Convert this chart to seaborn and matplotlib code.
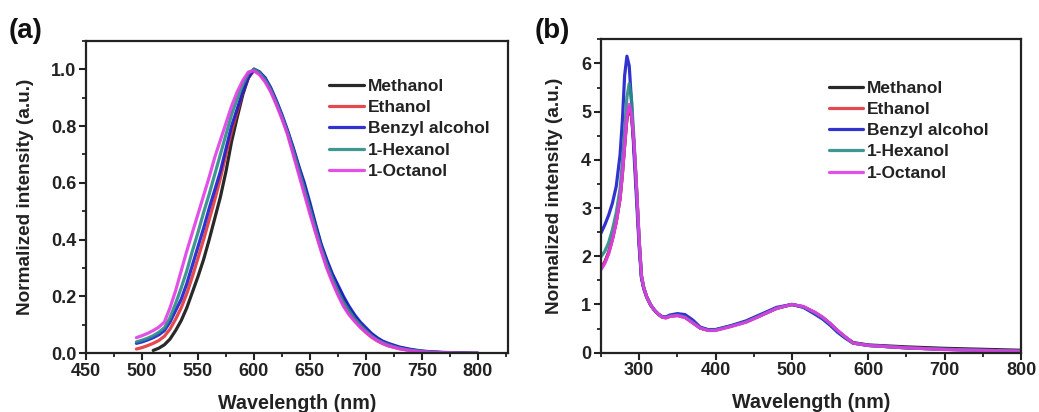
import numpy as np
import pandas as pd
import matplotlib
matplotlib.use("Agg")
import matplotlib.pyplot as plt
from matplotlib.ticker import MultipleLocator
import seaborn as sns

solvents = ["Methanol", "Ethanol", "Benzyl alcohol", "1-Hexanol", "1-Octanol"]
colors = ["#111111", "#e0353a", "#1c1ccc", "#2a8c84", "#e03de6"]

# ---------- panel (a): emission spectra ----------
wl_a = list(range(495, 721, 5)) + list(range(730, 801, 10))
wl_a_meoh = wl_a[3:]
pl_methanol = [0.01, 0.018, 0.03, 0.05, 0.08, 0.115, 0.16,
               0.215, 0.27, 0.33, 0.40, 0.475, 0.55, 0.64, 0.745, 0.83, 0.91,
               0.97, 1.0, 0.99, 0.965, 0.93, 0.885, 0.835, 0.78, 0.72, 0.655,
               0.59, 0.52, 0.45, 0.38, 0.325, 0.275, 0.235, 0.195, 0.16, 0.13,
               0.105, 0.085, 0.067, 0.052, 0.04, 0.032,
               0.02, 0.012, 0.007, 0.004, 0.002, 0.001, 0.0, 0.0]
pl_ethanol = [0.015, 0.02, 0.027, 0.035, 0.045, 0.06, 0.085, 0.12, 0.16, 0.21,
              0.27, 0.335, 0.40, 0.47, 0.54, 0.615, 0.70, 0.78, 0.85, 0.92,
              0.97, 0.995, 0.985, 0.96, 0.925, 0.88, 0.83, 0.775, 0.71, 0.64,
              0.57, 0.50, 0.43, 0.365, 0.305, 0.255, 0.21, 0.17, 0.14, 0.115,
              0.092, 0.073, 0.057, 0.044, 0.034, 0.026,
              0.016, 0.01, 0.006, 0.003, 0.002, 0.001, 0.0, 0.0]
pl_benzyl = [0.035, 0.04, 0.047, 0.055, 0.065, 0.08, 0.11, 0.15, 0.19, 0.245,
             0.31, 0.375, 0.44, 0.51, 0.575, 0.64, 0.72, 0.80, 0.86, 0.92,
             0.97, 1.0, 0.99, 0.97, 0.935, 0.89, 0.84, 0.785, 0.725, 0.66,
             0.60, 0.53, 0.455, 0.385, 0.33, 0.28, 0.24, 0.20, 0.165, 0.135,
             0.11, 0.09, 0.07, 0.055, 0.043, 0.035,
             0.022, 0.014, 0.008, 0.005, 0.003, 0.002, 0.001, 0.0]
pl_hexanol = [0.04, 0.046, 0.053, 0.062, 0.074, 0.09, 0.125, 0.175, 0.23, 0.29,
              0.36, 0.425, 0.495, 0.56, 0.63, 0.70, 0.77, 0.84, 0.895, 0.945,
              0.985, 1.0, 0.988, 0.963, 0.928, 0.883, 0.833, 0.778, 0.715, 0.648,
              0.58, 0.51, 0.44, 0.372, 0.315, 0.265, 0.22, 0.18, 0.15, 0.122,
              0.10, 0.08, 0.062, 0.048, 0.038, 0.03,
              0.018, 0.011, 0.007, 0.004, 0.002, 0.001, 0.0, 0.0]
pl_octanol = [0.055, 0.062, 0.07, 0.08, 0.092, 0.11, 0.16, 0.22, 0.29, 0.36,
              0.425, 0.49, 0.555, 0.62, 0.69, 0.75, 0.81, 0.87, 0.92, 0.96,
              0.99, 0.995, 0.98, 0.955, 0.92, 0.875, 0.825, 0.77, 0.70, 0.63,
              0.56, 0.49, 0.425, 0.36, 0.30, 0.25, 0.205, 0.165, 0.135, 0.112,
              0.092, 0.074, 0.058, 0.045, 0.035, 0.027,
              0.016, 0.009, 0.005, 0.003, 0.002, 0.001, 0.0, 0.0]

# ---------- panel (b): absorption spectra ----------
wl_b = [250, 255, 260, 265, 270, 275, 278, 281, 284, 287, 290, 293, 296, 300,
        303, 306, 310, 315, 320, 325, 330, 335, 340, 350, 360, 370, 380, 390,
        400, 420, 440, 460, 480, 500, 515, 530, 540, 550, 560, 570, 580, 600,
        650, 700, 750, 800]
abs_methanol = [1.75, 1.88, 2.08, 2.36, 2.72, 3.2, 3.7, 4.3, 4.85, 5.08, 4.9,
                4.35, 3.55, 2.3, 1.58, 1.34, 1.15, 0.99, 0.88, 0.8, 0.74, 0.73,
                0.76, 0.78, 0.74, 0.63, 0.51, 0.47, 0.47, 0.55, 0.64, 0.78,
                0.92, 1.0, 0.95, 0.83, 0.73, 0.6, 0.45, 0.32, 0.21, 0.16,
                0.12, 0.09, 0.07, 0.05]
abs_ethanol = [1.74, 1.87, 2.06, 2.35, 2.71, 3.2, 3.7, 4.3, 4.88, 5.1, 4.92,
               4.38, 3.58, 2.33, 1.6, 1.35, 1.15, 0.99, 0.88, 0.8, 0.74, 0.72,
               0.75, 0.77, 0.73, 0.62, 0.51, 0.47, 0.47, 0.55, 0.64, 0.78,
               0.92, 1.0, 0.95, 0.83, 0.73, 0.6, 0.45, 0.32, 0.2, 0.15,
               0.1, 0.07, 0.05, 0.03]
abs_benzyl = [2.48, 2.65, 2.85, 3.1, 3.45, 4.1, 4.8, 5.75, 6.15, 5.95, 5.2,
              4.2, 3.35, 2.2, 1.55, 1.33, 1.15, 0.99, 0.88, 0.8, 0.75, 0.74,
              0.78, 0.81, 0.79, 0.68, 0.53, 0.48, 0.48, 0.56, 0.66, 0.8,
              0.94, 1.0, 0.94, 0.8, 0.7, 0.57, 0.42, 0.3, 0.2, 0.15,
              0.1, 0.07, 0.05, 0.03]
abs_hexanol = [1.99, 2.1, 2.28, 2.55, 2.9, 3.4, 3.95, 4.6, 5.3, 5.58, 5.25,
               4.5, 3.6, 2.35, 1.6, 1.35, 1.15, 0.99, 0.88, 0.8, 0.74, 0.73,
               0.76, 0.78, 0.74, 0.63, 0.51, 0.47, 0.47, 0.55, 0.64, 0.78,
               0.92, 1.0, 0.95, 0.83, 0.73, 0.6, 0.45, 0.32, 0.2, 0.15,
               0.1, 0.07, 0.05, 0.03]
abs_octanol = [1.72, 1.85, 2.05, 2.34, 2.7, 3.2, 3.7, 4.3, 4.9, 5.15, 4.95,
               4.4, 3.6, 2.35, 1.6, 1.35, 1.15, 0.99, 0.88, 0.8, 0.74, 0.72,
               0.75, 0.77, 0.73, 0.62, 0.51, 0.46, 0.46, 0.54, 0.63, 0.77,
               0.92, 1.0, 0.96, 0.84, 0.74, 0.61, 0.46, 0.33, 0.2, 0.15,
               0.1, 0.065, 0.045, 0.03]


def long_df(xs_list, ys_list):
    rows = []
    for name, xs, ys in zip(solvents, xs_list, ys_list):
        for x, y in zip(xs, ys):
            rows.append((name, x, y))
    return pd.DataFrame(rows, columns=["solvent", "wavelength", "intensity"])


df_a = long_df([wl_a_meoh, wl_a, wl_a, wl_a, wl_a],
               [pl_methanol, pl_ethanol, pl_benzyl, pl_hexanol, pl_octanol])
df_b = long_df([wl_b] * 5,
               [abs_methanol, abs_ethanol, abs_benzyl, abs_hexanol, abs_octanol])

sns.set_theme(style="ticks")
plt.rcParams["font.family"] = ["Liberation Sans", "DejaVu Sans"]
plt.rcParams["font.weight"] = "bold"
plt.rcParams["axes.labelweight"] = "bold"

fig = plt.figure(figsize=(10.39, 4.12), dpi=100)
ax_a = fig.add_axes([0.0828, 0.1425, 0.4062, 0.7585])
ax_b = fig.add_axes([0.5784, 0.1440, 0.4043, 0.7606])

palette = dict(zip(solvents, colors))
ink = "#222222"

legend_anchor = {0: (0.548, 0.917), 1: (0.513, 0.907)}
ylabel_pad = {0: 12, 1: 13}

for i, (ax, df) in enumerate(((ax_a, df_a), (ax_b, df_b))):
    sns.lineplot(data=df, x="wavelength", y="intensity", hue="solvent",
                 hue_order=solvents, palette=palette, sort=False,
                 estimator=None, linewidth=2.3, alpha=0.9, ax=ax)
    for s in ax.spines.values():
        s.set_linewidth(1.6)
        s.set_color(ink)
    ax.tick_params(axis="both", which="major", direction="out", length=5,
                   width=1.5, labelsize=13, colors=ink, pad=2)
    ax.tick_params(axis="both", which="minor", direction="out", length=3,
                   width=1.3, colors=ink)
    ax.set_xlabel("Wavelength (nm)", fontsize=14.2, fontweight="bold",
                  color=ink, labelpad=10)
    ax.set_ylabel("Normalized intensity (a.u.)", fontsize=13.7,
                  fontweight="bold", color=ink, labelpad=ylabel_pad[i])
    handles, labels = ax.get_legend_handles_labels()
    leg = ax.legend(handles, labels, frameon=False, fontsize=12.5,
                    handlelength=2.0, handletextpad=0.23, labelspacing=0.35,
                    borderaxespad=0.3, loc="upper left",
                    bbox_to_anchor=legend_anchor[i])
    for t in leg.get_texts():
        t.set_fontweight("bold")
        t.set_color(ink)
    for h in leg.get_lines():
        h.set_linewidth(2.3)

ax_a.set_xlim(450, 827)
ax_a.set_ylim(0, 1.1)
ax_a.xaxis.set_minor_locator(MultipleLocator(25))
ax_a.yaxis.set_minor_locator(MultipleLocator(0.1))
ax_a.set_yticks([0, 0.2, 0.4, 0.6, 0.8, 1.0])
ax_a.set_yticklabels(["0.0", "0.2", "0.4", "0.6", "0.8", "1.0"])
ax_a.set_xticks(list(range(450, 801, 50)))

ax_b.set_xlim(250, 800)
ax_b.set_ylim(0, 6.5)
ax_b.xaxis.set_minor_locator(MultipleLocator(50))
ax_b.yaxis.set_minor_locator(MultipleLocator(0.5))
ax_b.set_xticks(list(range(300, 801, 100)))
ax_b.set_yticks(list(range(0, 7)))

for ax in (ax_a, ax_b):
    for lab in ax.get_xticklabels() + ax.get_yticklabels():
        lab.set_fontweight("bold")
        lab.set_fontsize(13)

fig.text(0.008, 0.957, "(a)", fontsize=20, fontweight="bold", va="top",
         ha="left", color="#111111")
fig.text(0.515, 0.957, "(b)", fontsize=20, fontweight="bold", va="top",
         ha="left", color="#111111")

fig.savefig("out.png", dpi=100)
